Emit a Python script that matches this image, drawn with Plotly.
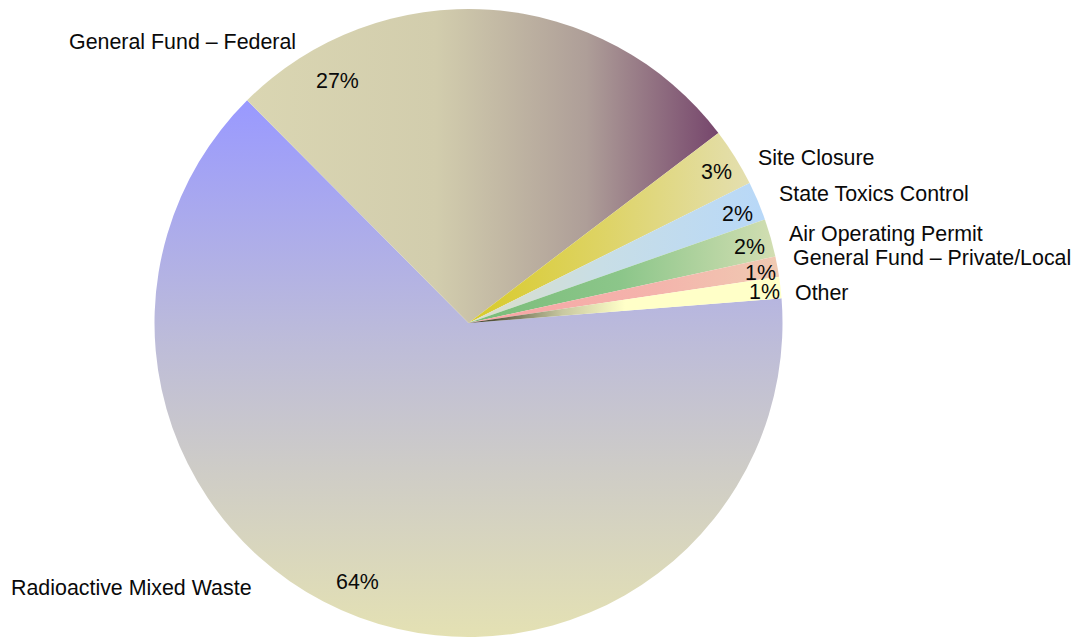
import json
import plotly.graph_objects as go

# Funding sources (share of total, %), clockwise from about 3 o'clock
categories = [
    "Radioactive Mixed Waste",
    "General Fund – Federal",
    "Site Closure",
    "State Toxics Control",
    "Air Operating Permit",
    "General Fund – Private/Local",
    "Other",
]
shares = [63.8, 27.1, 3.0, 2.0, 1.95, 1.05, 1.1]

W, H = 1078, 637
FONT = dict(family="Liberation Sans, Arial, sans-serif", size=21.4, color="#0a0a0a")

# Fallback solid fills (replaced by gradients once the page is drawn)
solid = ["#BDBCD8", "#B8A8A0", "#E0D870", "#C4DCEE", "#A4D09C", "#F4B8AC", "#F4F2C0"]

# Gradient definitions per slice: direction vector + colour stops
gradients = [
    dict(x1=0, y1=0, x2=0, y2=1, stops=[[0, "#9999FF"], [0.45, "#BDBCD9"], [0.7, "#CFCDC6"], [1, "#E4E1B3"]]),
    dict(x1=0, y1=0, x2=1, y2=0, stops=[[0, "#DAD6B2"], [0.4, "#D2CDAD"], [0.72, "#AE9E98"], [1, "#76466C"]]),
    dict(x1=0, y1=0, x2=1, y2=0, stops=[[0, "#D8CA28"], [0.5, "#DED468"], [1, "#E4DFB0"]]),
    dict(x1=0, y1=0, x2=1, y2=0, stops=[[0, "#DCDEC8"], [0.45, "#C8DEE6"], [1, "#B8D8F8"]]),
    dict(x1=0, y1=0, x2=1, y2=0, stops=[[0, "#78BC78"], [0.5, "#8CC68A"], [1, "#D2DEB2"]]),
    dict(x1=0, y1=0, x2=1, y2=0, stops=[[0, "#F8A4A4"], [0.6, "#F4B4AC"], [1, "#F0CAB2"]]),
    dict(x1=0, y1=0, x2=1, y2=0, stops=[[0, "#2C2C1C"], [0.3, "#C8C8A0"], [0.5, "#FFFFC8"], [1, "#FFFFC8"]]),
]

# Label placement in pixels: (category label left x, centre y), (percent centre x, centre y)
name_pos = [(9, 588), (67, 42), (756, 158), (777, 194), (787, 234), (791, 258), (793, 293)]
pct_pos = [(357, 582), (337, 81), (716, 172), (737, 214), (749, 247), (760, 273), (764, 292)]

fig = go.Figure(
    go.Pie(
        labels=categories,
        values=shares,
        sort=False,
        direction="clockwise",
        rotation=85.5,
        textinfo="none",
        hoverinfo="label+percent",
        marker=dict(colors=solid, line=dict(width=0)),
        domain=dict(x=[154 / W, 783 / W], y=[0, 628 / H]),
    )
)

total = sum(shares)
annotations = []
for name, v, (nx, ny), (px, py) in zip(categories, shares, name_pos, pct_pos):
    annotations.append(dict(
        x=nx / W, y=1 - ny / H, xref="paper", yref="paper",
        xanchor="left", yanchor="middle", text=name, showarrow=False, font=FONT,
    ))
    annotations.append(dict(
        x=px / W, y=1 - py / H, xref="paper", yref="paper",
        xanchor="center", yanchor="middle", text=f"{round(v / total * 100)}%",
        showarrow=False, font=FONT,
    ))

fig.update_layout(
    width=W, height=H,
    margin=dict(l=0, r=0, t=0, b=0),
    paper_bgcolor="white", plot_bgcolor="white",
    showlegend=False,
    annotations=annotations,
)

grad_script = """
var gd = document.getElementById('{plot_id}');
var ns = 'http://www.w3.org/2000/svg';
var grads = GRADS;
function applyGrads() {
  var svg = gd.querySelector('svg.main-svg');
  var defs = svg.querySelector('defs');
  if (!defs) { defs = document.createElementNS(ns, 'defs'); svg.insertBefore(defs, svg.firstChild); }
  var paths = gd.querySelectorAll('g.slice path.surface');
  paths.forEach(function (p, i) {
    var g = grads[i];
    if (!g) return;
    var id = 'slicegrad' + i;
    var old = document.getElementById(id);
    if (old) old.remove();
    var lg = document.createElementNS(ns, 'linearGradient');
    lg.setAttribute('id', id);
    lg.setAttribute('x1', g.x1); lg.setAttribute('y1', g.y1);
    lg.setAttribute('x2', g.x2); lg.setAttribute('y2', g.y2);
    g.stops.forEach(function (s) {
      var st = document.createElementNS(ns, 'stop');
      st.setAttribute('offset', s[0]);
      st.setAttribute('stop-color', s[1]);
      lg.appendChild(st);
    });
    defs.appendChild(lg);
    p.style.fill = 'url(#' + id + ')';
  });
}
applyGrads();
gd.on('plotly_afterplot', applyGrads);
""".replace("GRADS", json.dumps(gradients))

fig.write_html("out.html", post_script=grad_script)
